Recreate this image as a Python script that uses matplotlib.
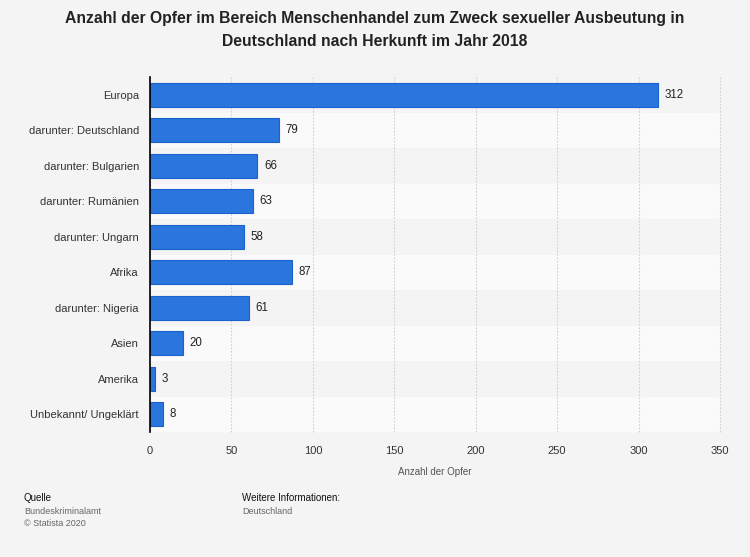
import matplotlib
matplotlib.use("Agg")
import matplotlib.pyplot as plt

categories = ["Europa", "darunter: Deutschland", "darunter: Bulgarien", "darunter: Rumänien",
              "darunter: Ungarn", "Afrika", "darunter: Nigeria", "Asien", "Amerika",
              "Unbekannt/ Ungeklärt"]
values = [312, 79, 66, 63, 58, 87, 61, 20, 3, 8]
xticks = [0, 50, 100, 150, 200, 250, 300, 350]

plt.rcParams['font.family'] = ['Liberation Sans', 'DejaVu Sans']

fig = plt.figure(figsize=(7.5, 5.57), dpi=100, facecolor='#f4f4f4')
ax = fig.add_axes([0.2, 1 - 432/557, 0.76, (432 - 77)/557])
ax.set_facecolor('#f4f4f4')

n = len(categories)
ypos = list(range(n))
for i in ypos:
    if i % 2 == 1:
        ax.axhspan(i - 0.5, i + 0.5, color='#fafafa', zorder=0, lw=0)

ax.barh(ypos, values, height=0.68, color='#2a76dd', edgecolor='#1b62cf', linewidth=0.8, zorder=3)
for y, v in zip(ypos, values):
    ax.text(v + 4, y, str(v), va='center', ha='left', fontsize=8.3, color='#222222', zorder=4)

ax.set_xlim(0, 350)
ax.set_ylim(n - 0.5, -0.5)
ax.set_yticks(ypos)
ax.set_yticklabels(categories, fontsize=8, color='#333333')
ax.set_xticks(xticks)
ax.set_xticklabels([str(t) for t in xticks], fontsize=8, color='#333333')
ax.tick_params(axis='both', length=0, pad=8)
ax.tick_params(axis='x', pad=10)
ax.grid(axis='x', color='#d0d0d0', linestyle=(0, (1.5, 1.5)), linewidth=0.8, zorder=1)
for gl in ax.get_xgridlines():
    gl.set_clip_on(False)
ax.set_axisbelow(True)
for s in ['top', 'right', 'bottom']:
    ax.spines[s].set_visible(False)
ax.spines['left'].set_color('#000000')
ax.spines['left'].set_linewidth(1.2)
ax.spines['left'].set_zorder(5)
ax.set_xlabel("Anzahl der Opfer", fontsize=7, color='#555555', labelpad=8)

fig.text(0.5, 1 - 18/557, "Anzahl der Opfer im Bereich Menschenhandel zum Zweck sexueller Ausbeutung in",
         ha='center', va='center', fontsize=11.3, fontweight='bold', color='#222222')
fig.text(0.5, 1 - 42/557, "Deutschland nach Herkunft im Jahr 2018",
         ha='center', va='center', fontsize=11.3, fontweight='bold', color='#222222')

fig.text(24/750, 1 - 498/557, "Quelle", fontsize=7, color='#111111', va='center')
fig.text(24/750, 1 - 511/557, "Bundeskriminalamt", fontsize=6.5, color='#666666', va='center')
fig.text(24/750, 1 - 523/557, "© Statista 2020", fontsize=6.5, color='#666666', va='center')
fig.text(242/750, 1 - 498/557, "Weitere Informationen:", fontsize=7, color='#111111', va='center')
fig.text(242/750, 1 - 511/557, "Deutschland", fontsize=6.5, color='#666666', va='center')

fig.savefig("out.png", dpi=100, facecolor=fig.get_facecolor())
